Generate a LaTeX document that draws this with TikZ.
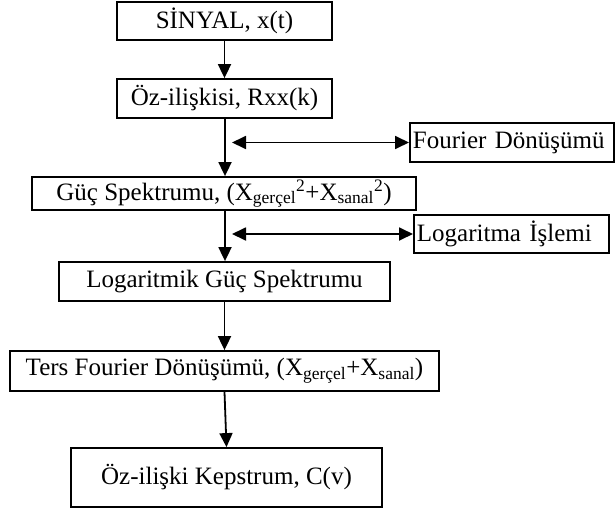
\documentclass[tikz,border=0pt]{standalone}
\usepackage{fontspec}
\setmainfont{Liberation Serif}
\usetikzlibrary{arrows.meta}
\begin{document}
\begin{tikzpicture}[x=1pt,y=-1pt,
  txt/.style={font=\fontsize{25}{30}\selectfont},
  box/.style={txt, draw, line width=1.8pt, inner sep=0pt},
  sidebox/.style={txt, draw, line width=1.8pt, inner xsep=3pt, inner ysep=0pt, align=left},
  tip/.tip={Triangle[length=14pt,width=13pt]},
  flow/.style={line width=1.8pt, -tip},
  both/.style={line width=1.8pt, tip-tip}]
  \useasboundingbox (0,0) rectangle (615,514);

  % main chain of processing steps
  \node[box, minimum width=215pt, minimum height=38pt] (sig) at (224.5,21) {SİNYAL, x(t)};
  \node[box, minimum width=215pt, minimum height=39pt] (auto) at (224.5,98.5) {Öz-ilişkisi, Rxx(k)};
  \node[box, minimum width=384pt, minimum height=33pt] (pow) at (224,193.5)
    {Güç Spektrumu, (X\textsubscript{gerçel}\textsuperscript{2}+X\textsubscript{sanal}\textsuperscript{2})};
  \node[box, minimum width=331pt, minimum height=39pt] (logp) at (224.5,281.5) {Logaritmik Güç Spektrumu};
  \node[box, minimum width=429pt, minimum height=40pt] (ift) at (224.5,371)
    {Ters Fourier Dönüşümü, (X\textsubscript{gerçel}+X\textsubscript{sanal})};
  \node[box, minimum width=311pt, minimum height=59pt] (ceps) at (226.5,477.5) {Öz-ilişki Kepstrum, C(v)};

  % operations on the side
  \node[sidebox, text width=198pt, minimum height=39pt, anchor=west] (four) at (409,142.5) {Fourier Dönüşümü};
  \node[sidebox, text width=189pt, minimum height=38pt, anchor=west] (logop) at (413,234) {Logaritma İşlemi};

  \coordinate (fl) at (232,142.5);
  \coordinate (ll) at (232,234);

  % connectors
  \draw[flow] (sig) -- (auto);
  \draw[flow] (auto.south -| pow.north) ++(1,0) coordinate (a1) -- (a1 |- pow.north);
  \draw[flow] (pow.south) ++(1,0) coordinate (a2) -- (a2 |- logp.north);
  \draw[flow] (logp) -- (ift);
  \draw[flow] (ift.south) -- (ceps.north);
  \draw[both] (fl) -- (four.west);
  \draw[both] (ll) -- (logop.west);
\end{tikzpicture}
\end{document}
